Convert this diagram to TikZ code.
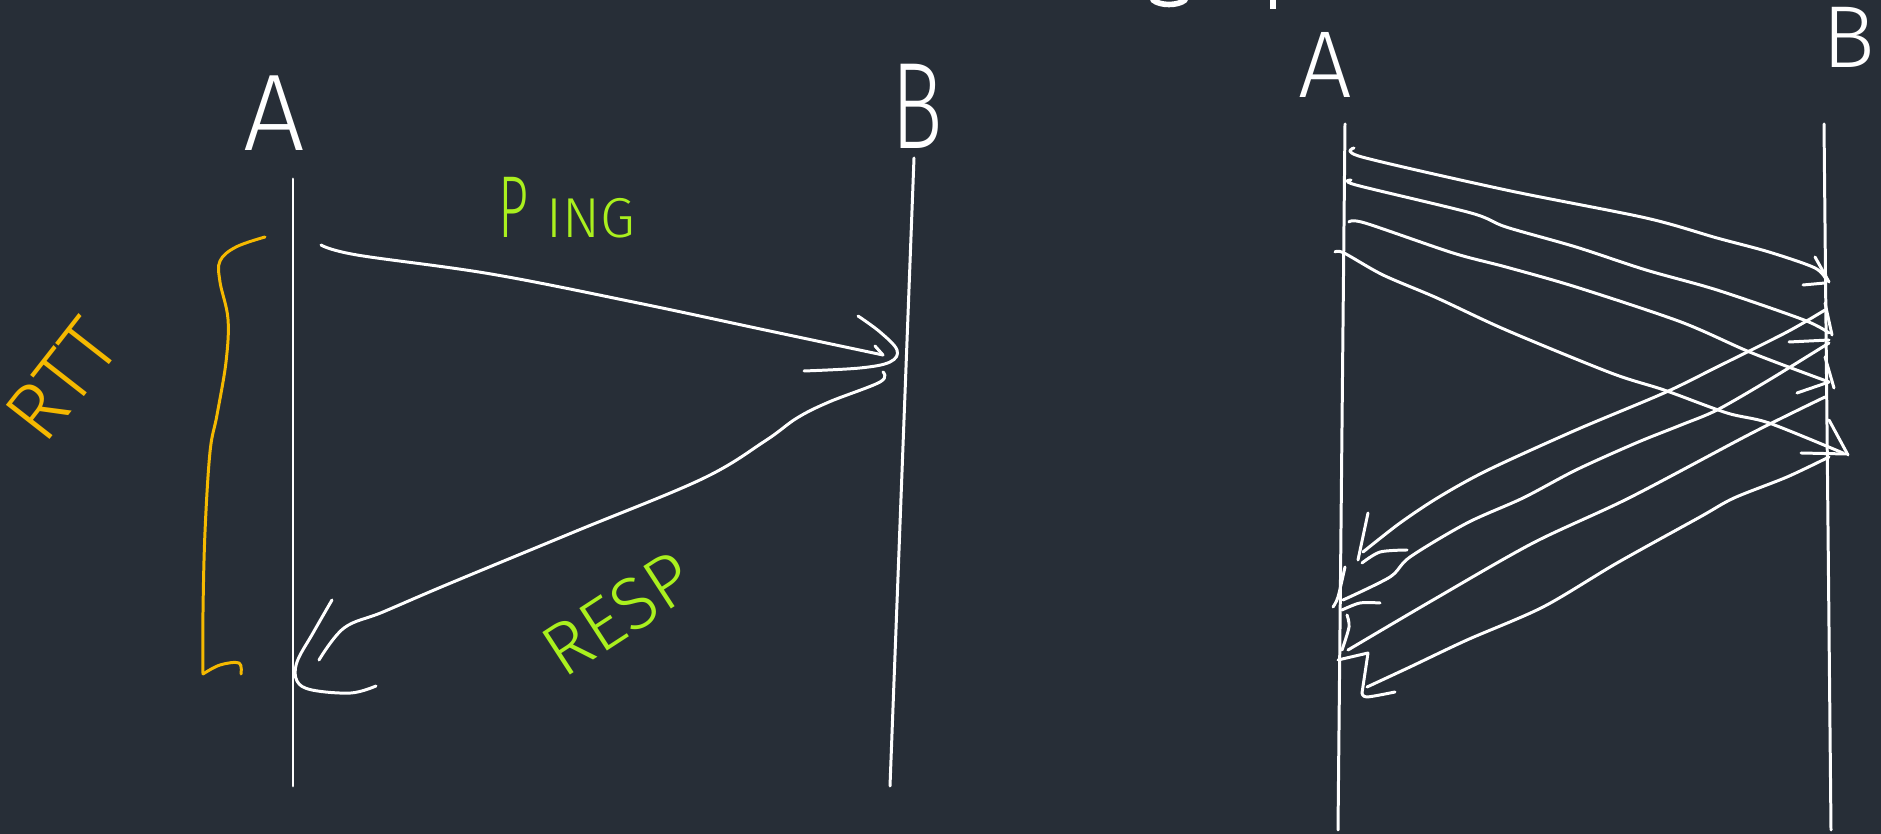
\documentclass[tikz,border=0pt]{standalone}
\usepackage{fontspec}
\newfontfamily\penfont{Fira Sans Light}
\definecolor{board}{RGB}{39,46,55}
\definecolor{chalkorange}{RGB}{245,185,0}
\definecolor{chalkgreen}{RGB}{170,240,30}
\tikzset{
  pen/.style={white, line width=0.85pt, line cap=round, line join=round},
  orangepen/.style={pen, draw=chalkorange},
  label/.style={white, inner sep=0pt, font=\penfont},
  greenlabel/.style={label, text=chalkgreen},
  orangelabel/.style={label, text=chalkorange},
  stroke/.style={pen, smooth, tension=0.5},
}
\begin{document}
\begin{tikzpicture}[x=0.01cm, y=-0.01cm]
\useasboundingbox (0,0) rectangle (1881,834);
\fill[board] (0,0) rectangle (1881,834);

% ---------- left: single ping / response ----------
\coordinate (lAtop) at (293,179);
\coordinate (lAbot) at (293,786);
\coordinate (lBtop) at (914,158);
\coordinate (lBbot) at (890,786);
\draw[pen] (lAtop) -- (lAbot);
\draw[pen] (lBtop) -- (lBbot);
\node[label, font=\penfont\fontsize{31}{31}\selectfont] (lA) at (274,113) {A};
\node[label, font=\penfont\fontsize{35}{35}\selectfont] (lB) at (917,106) {\scalebox{0.7}[1]{B}};

% request
\coordinate (pingS) at (321,245);
\coordinate (pingE) at (883,355);
\draw[pen] plot[smooth, tension=0.6] coordinates {(pingS) (357,255) (491,274) (638,303) (765,330) (pingE)};
\draw[pen] plot[smooth, tension=0.6] coordinates {(858,316) (880,332) (897,350) (890,362) (860,368) (804,371)};
\draw[pen] (875,346) -- (pingE);
\node[greenlabel, anchor=base] (ping) at (567,238)
  {\fontsize{25}{25}\selectfont\scalebox{0.6}[1]{P}\hspace{0.2em}\fontsize{16}{16}\selectfont ING};

% response
\coordinate (respS) at (883,372);
\coordinate (respE) at (319,660);
\draw[pen] plot[smooth, tension=0.6] coordinates {(respS) (880,382) (829,402) (797,418) (765,441) (702,479) (574,532) (446,585) (383,612) (344,628) (respE)};
\draw[pen] plot[smooth, tension=0.6] coordinates {(332,600) (313,633) (297,662) (297,681) (312,690) (351,693) (376,686)};
\node[greenlabel, rotate=33, font=\penfont\fontsize{21}{21}\selectfont] (resp) at (618,614) {RESP};

% round trip bracket
\draw[orangepen] plot[smooth, tension=0.6] coordinates {(265,237) (236,247) (220,261) (220,282) (228,319) (226,362) (217,415) (210,452) (205,532) (203,612) (203,674)};
\draw[orangepen] plot[smooth, tension=0.6] coordinates {(203,674) (220,665) (239,663) (241,674)};
\node[orangelabel, rotate=52, font=\penfont\fontsize{23}{23}\selectfont] (rtt) at (62,380) {RTT};

% ---------- right: pipelined requests ----------
\draw[pen, line width=1.6pt] (1153,0) .. controls (1160,6) and (1178,6) .. (1185,0);
\draw[white, line width=1.8pt] (1273,0) -- (1273,9);

\coordinate (rAtop) at (1345,124);
\coordinate (rAbot) at (1338,830);
\coordinate (rBtop) at (1824,124);
\coordinate (rBbot) at (1831,830);
\draw[pen] (rAtop) -- (rAbot);
\draw[pen] (rBtop) -- (rBbot);
\node[label, font=\penfont\fontsize{27}{27}\selectfont] (rA) at (1325,65) {A};
\node[label, font=\penfont\fontsize{25}{25}\selectfont] (rB) at (1849,37) {B};

% requests A -> B
\draw[stroke] plot coordinates {(1354,148) (1362,157) (1506,190) (1646,218) (1717,238) (1769,252) (1815,268) (1827,281)};
\draw[pen] (1815,257) -- (1829,282);
\draw[pen] (1803,285) -- (1825,283);

\draw[stroke] plot coordinates {(1351,180) (1356,185) (1471,213) (1506,227) (1576,247) (1646,270) (1717,290) (1804,320) (1829,333)};
\draw[pen] (1825,303) -- (1832,335);
\draw[pen] (1789,342) -- (1829,340);

\draw[stroke] plot coordinates {(1349,222) (1365,223) (1453,253) (1506,267) (1576,287) (1681,322) (1752,353) (1829,382)};
\draw[pen] (1825,357) -- (1834,388);
\draw[pen] (1797,393) -- (1829,382);

\draw[stroke] plot coordinates {(1335,252) (1344,253) (1383,275) (1437,298) (1506,330) (1611,373) (1664,390) (1727,413) (1769,423) (1843,453)};
\draw[pen] (1829,420) -- (1848,455);
\draw[pen] (1801,453) -- (1846,454);

% responses B -> A
\draw[stroke] plot coordinates {(1825,310) (1787,332) (1717,367) (1664,393) (1576,430) (1488,470) (1439,497) (1400,523) (1363,552)};
\draw[pen] (1368,513) -- (1358,560);
\draw[stroke] plot coordinates {(1362,563) (1380,552) (1407,550)};

\draw[stroke] plot coordinates {(1829,343) (1769,380) (1717,410) (1681,425) (1636,443) (1576,470) (1523,498) (1467,523) (1410,557) (1390,577) (1343,600)};
\draw[stroke] plot coordinates {(1345,567) (1338,597) (1333,607)};
\draw[stroke] plot coordinates {(1342,610) (1360,603) (1380,603)};

\draw[stroke] plot coordinates {(1825,397) (1752,433) (1629,498) (1533,543) (1433,600) (1348,650)};
\draw[stroke] plot coordinates {(1347,615) (1349,627) (1342,650)};

\draw[stroke] plot coordinates {(1829,457) (1787,477) (1734,498) (1700,517) (1617,563) (1543,607) (1467,640) (1410,667) (1367,687)};
\draw[pen] (1338,660) -- (1368,653) -- (1362,693);
\draw[stroke] plot coordinates {(1362,693) (1367,697) (1395,692)};
\end{tikzpicture}
\end{document}
